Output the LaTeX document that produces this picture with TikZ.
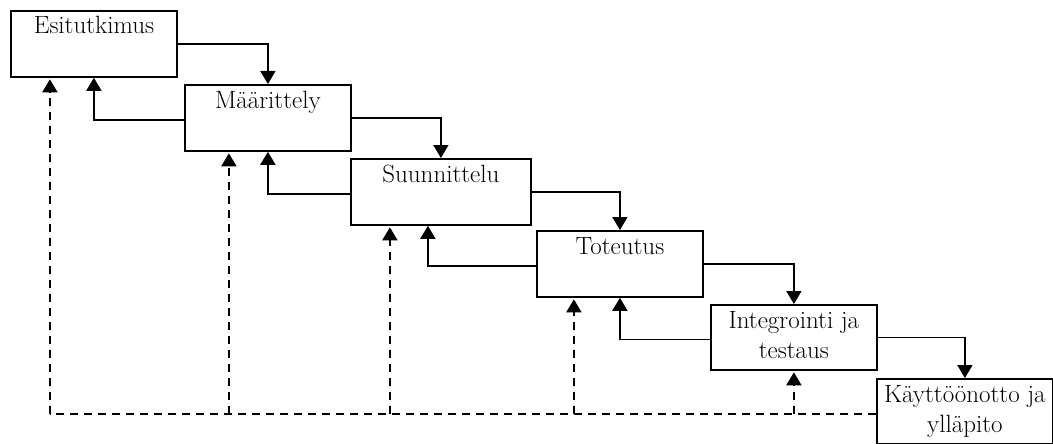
\documentclass[tikz,border=0pt]{standalone}
\usetikzlibrary{arrows.meta,calc}
\begin{document}
\begin{tikzpicture}[x=1pt,y=-1pt,
  stage/.style={draw, line width=1.8pt, rectangle, inner sep=0pt,
                anchor=north west, minimum height=66pt},
  lbl/.style={font=\fontsize{25}{30}\selectfont, inner sep=0pt,
              anchor=base, align=center},
  flow/.style={line width=1.8pt, -{Triangle[width=15pt,length=13pt]}},
  dashline/.style={line width=1.8pt, dash pattern=on 8pt off 6pt},
  feedback/.style={dashline, -{Triangle[width=15pt,length=13pt]}, shorten >=1.5pt}]
\useasboundingbox (0,0) rectangle (1053,444);

% phases of the waterfall
\node[stage, minimum width=166pt] (b1) at (10,10) {};
\node[stage, minimum width=166pt] (b2) at (184,84) {};
\node[stage, minimum width=180pt] (b3) at (350,158) {};
\node[stage, minimum width=166pt] (b4) at (536,230) {};
\node[stage, minimum width=166pt, minimum height=65pt] (b5) at (710,304) {};
\node[stage, minimum width=176pt, minimum height=65pt] (b6) at (876,378) {};

% single-line labels sit on the first baseline, two-line ones on the second
\node[lbl] (t1) at ([yshift=-24pt]b1.north) {Esitutkimus};
\node[lbl] (t2) at ([yshift=-24pt]b2.north) {Määrittely};
\node[lbl] (t3) at ([yshift=-24pt]b3.north) {Suunnittelu};
\node[lbl] (t4) at ([yshift=-24pt]b4.north) {Toteutus};
\node[lbl] (t5) at ([yshift=-54pt]b5.north) {Integrointi ja\\testaus};
\node[lbl] (t6) at ([yshift=-54pt]b6.north) {Käyttöönotto ja\\ylläpito};

% forward flow
\draw[flow] (b1.east) -| (b2.north);
\draw[flow] (b2.east) -| (b3.north);
\draw[flow] (b3.east) -| (b4.north);
\draw[flow] (b4.east) -| (b5.north);
\draw[flow] (b5.east) -| (b6.north);

% return to the previous phase
\draw[flow] ([yshift=-2pt]b2.west) -| (b1.south);
\draw[flow] ([yshift=-2pt]b3.west) -| (b2.south);
\draw[flow] ([yshift=-2pt]b4.west) -| ([xshift=-13pt]b3.south);
\draw[flow] ([yshift=-2pt]b5.west) -| (b4.south);

% feedback from maintenance
\coordinate (fb) at ([yshift=-2.5pt]b6.west);
\coordinate (d1) at ([xshift=-44pt]b1.south);
\coordinate (d2) at ([xshift=-39pt]b2.south);
\coordinate (d3) at ([xshift=-51pt]b3.south);
\coordinate (d4) at ([xshift=-46pt]b4.south);
\coordinate (d5) at (b5.south);
\draw[dashline] (fb) -- (fb -| d1);
\foreach \i in {1,...,5}
  \draw[feedback] (fb -| d\i) -- (d\i);
\end{tikzpicture}
\end{document}
